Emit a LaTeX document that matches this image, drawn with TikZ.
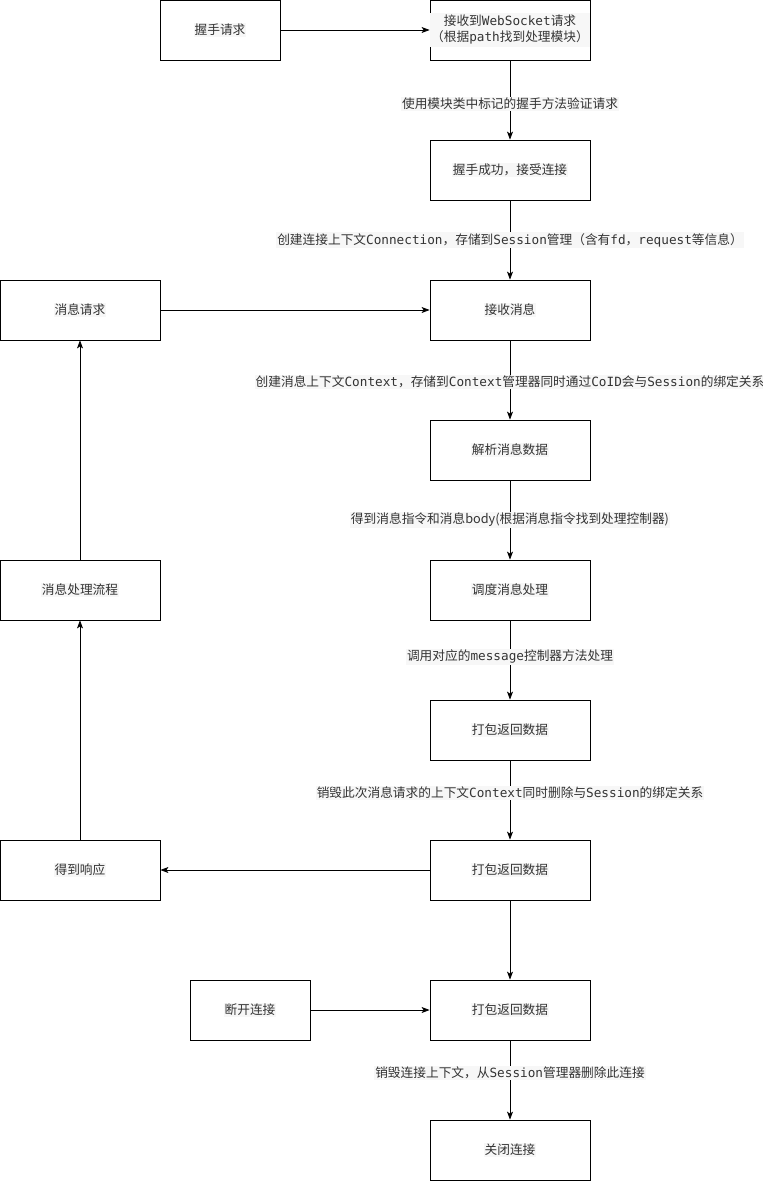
\documentclass[tikz,border=0pt]{standalone}
\usepackage{fontspec}
\setmainfont{Noto Sans CJK SC}
\setmonofont{DejaVu Sans Mono}
\usetikzlibrary{arrows.meta}
\definecolor{txt}{HTML}{333333}
\definecolor{lbg}{HTML}{F7F7F7}
\newcommand{\mt}[1]{\texttt{#1}}
\newcommand{\bt}[1]{{\setlength{\fboxsep}{1pt}\colorbox{lbg}{#1}}}
\tikzset{
  box/.style={draw=black, line width=0.8pt, fill=white, minimum width=160pt, minimum height=60pt, inner sep=0pt, text=txt, font=\fontsize{12.7}{16}\selectfont},
  sbox/.style={box, minimum width=120pt},
  conn/.style={draw=black, line width=0.8pt, -{Stealth[length=8pt,width=6pt,inset=2pt]}},
  elabel/.style={fill=lbg, inner sep=1pt, text=txt, font=\fontsize{12.7}{16}\selectfont}
}
\begin{document}
\begin{tikzpicture}[x=1pt,y=-1pt]
\useasboundingbox (0,0) rectangle (763,1181);
\node[sbox] (hs) at (220,30) {\bt{握手请求}};
\node[box] (ws) at (510,30) {\setlength{\fboxsep}{1pt}\colorbox{lbg}{\begin{tabular}{@{}c@{}}接收到\mt{WebSocket}请求\\（根据\mt{path}找到处理模块）\end{tabular}}};
\node[box] (ok) at (510,170) {\bt{握手成功，接受连接}};
\node[box] (rcv) at (510,310) {\bt{接收消息}};
\node[box] (req) at (80,310) {\bt{消息请求}};
\node[box] (parse) at (510,450) {\bt{解析消息数据}};
\node[box] (disp) at (510,590) {\bt{调度消息处理}};
\node[box] (flow) at (80,590) {\bt{消息处理流程}};
\node[box] (pk1) at (510,730) {\bt{打包返回数据}};
\node[box] (pk2) at (510,870) {\bt{打包返回数据}};
\node[box] (resp) at (80,870) {\bt{得到响应}};
\node[box] (pk3) at (510,1010) {\bt{打包返回数据}};
\node[sbox] (disc) at (250,1010) {\bt{断开连接}};
\node[box] (close) at (510,1150) {\bt{关闭连接}};

\draw[conn] (hs) -- (ws);
\draw[conn] (ws) -- node[elabel, pos=0.55] {使用模块类中标记的握手方法验证请求} (ok);
\draw[conn] (ok) -- node[elabel, pos=0.5] {创建连接上下文\mt{Connection}，存储到\mt{Session}管理（含有\mt{fd}，\mt{request}等信息）} (rcv);
\draw[conn] (req) -- (rcv);
\draw[conn] (rcv) -- node[elabel, pos=0.52] {创建消息上下文\mt{Context}，存储到\mt{Context}管理器同时通过\mt{CoID}会与\mt{Session}的绑定关系} (parse);
\draw[conn] (parse) -- node[elabel, pos=0.5] {得到消息指令和消息body(根据消息指令找到处理控制器)} (disp);
\draw[conn] (disp) -- node[elabel, pos=0.46] {调用对应的\mt{message}控制器方法处理} (pk1);
\draw[conn] (pk1) -- node[elabel, pos=0.41] {销毁此次消息请求的上下文\mt{Context}同时删除与\mt{Session}的绑定关系} (pk2);
\draw[conn] (pk2) -- (resp);
\draw[conn] (resp) -- (flow);
\draw[conn] (flow) -- (req);
\draw[conn] (pk2) -- (pk3);
\draw[conn] (disc) -- (pk3);
\draw[conn] (pk3) -- node[elabel, pos=0.41] {销毁连接上下文，从\mt{Session}管理器删除此连接} (close);
\end{tikzpicture}
\end{document}
